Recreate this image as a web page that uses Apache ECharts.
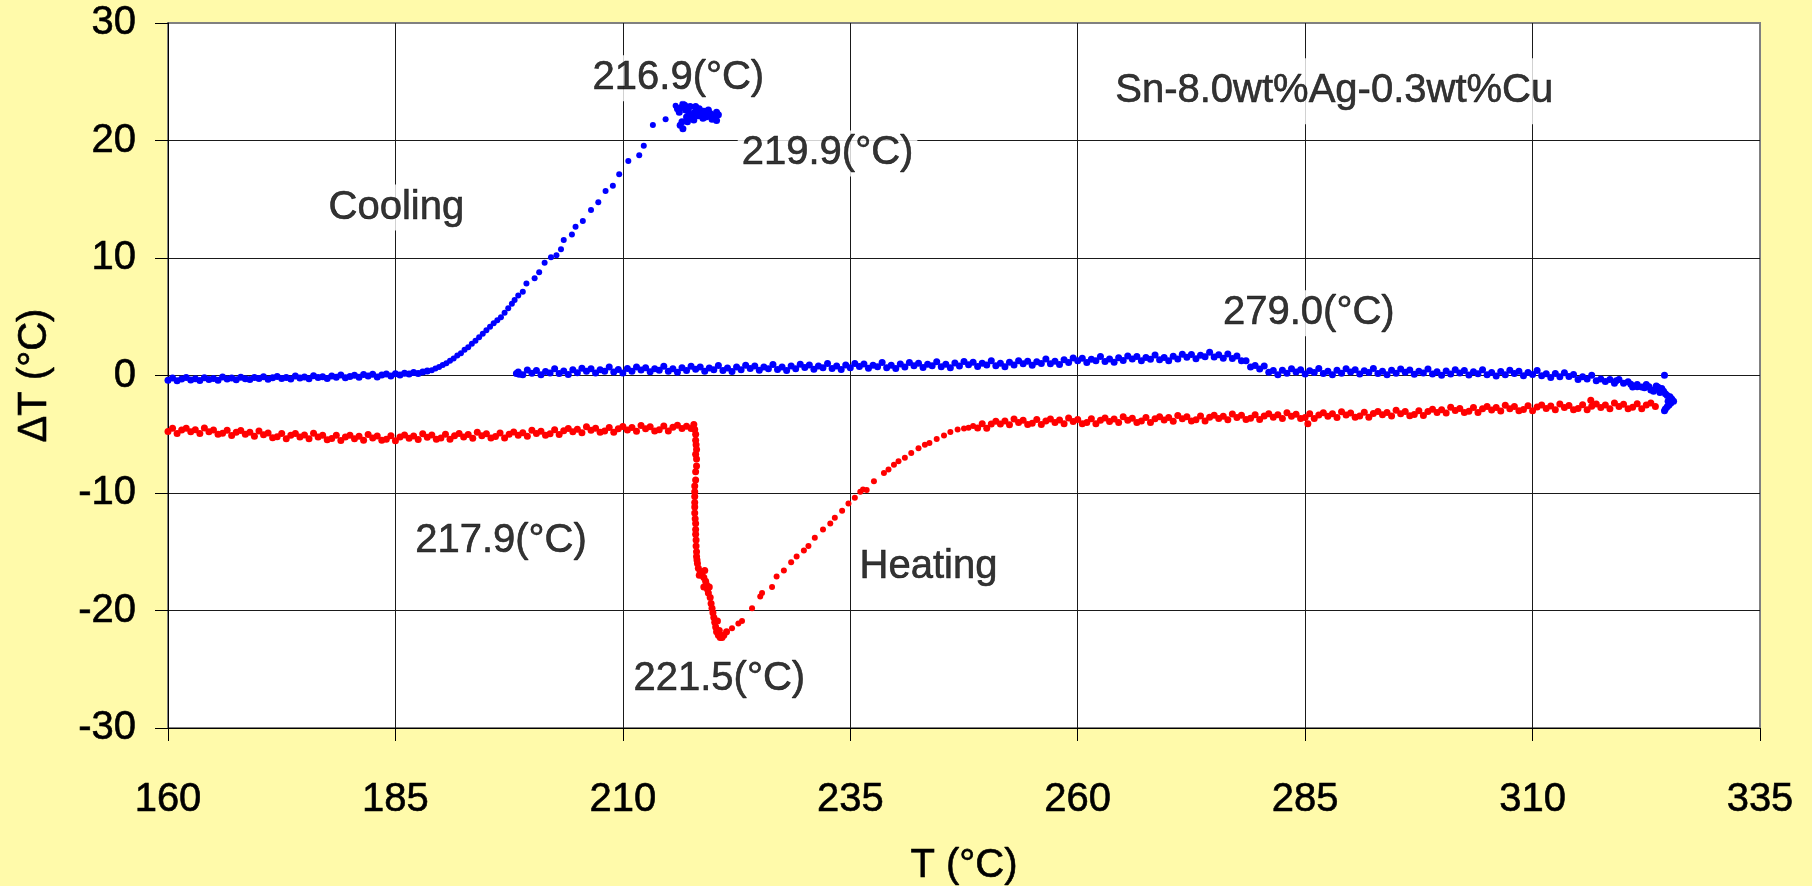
<!DOCTYPE html>
<html>
<head>
<meta charset="utf-8">
<script src="https://cdn.jsdelivr.net/npm/echarts@6/dist/echarts.min.js"></script>
<style>
html,body{margin:0;padding:0;background:#FFFAAA;}
#chart{width:1812px;height:886px;}
</style>
</head>
<body>
<div id="chart"></div>
<script>
// ---- axis settings ----
const xRange = [160, 335, 25];
const yRange = [-30, 30, 10];
const xTitle = 'T (°C)';
const yTitle = 'ΔT (°C)';

// ---- Cooling (blue) ----
const coolingLow = [
[160.0,-0.40],[160.5,-0.22],[161.0,-0.45],[161.5,-0.30],[162.0,-0.18],[162.5,-0.38],[163.0,-0.28],[163.5,-0.42],
[164.0,-0.20],[164.5,-0.33],[165.0,-0.25],[165.5,-0.40],[166.0,-0.12],[166.5,-0.30],[167.0,-0.22],[167.5,-0.36],
[168.0,-0.15],[168.5,-0.28],[169.0,-0.35],[169.5,-0.18],[170.0,-0.26],[170.5,-0.10],[171.0,-0.32],[171.5,-0.20],
[172.0,-0.08],[172.5,-0.25],[173.0,-0.16],[173.5,-0.30],[174.0,-0.05],[174.5,-0.22],[175.0,-0.12],[175.5,-0.28],
[176.0,-0.02],[176.5,-0.18],[177.0,-0.10],[177.5,-0.25],[178.0,-0.04],[178.5,-0.15],[179.0,0.05],[179.5,-0.20],
[180.0,-0.08],[180.5,0.02],[181.0,-0.15],[181.5,0.08],[182.0,-0.05],[182.5,0.10],[183.0,-0.12],[183.5,0.05],
[184.0,0.12],[184.5,-0.05],[185.0,0.15],[185.5,0.05],[186.0,0.20],[186.5,0.12],[187.0,0.25],[187.5,0.18],
[188.0,0.30],[188.5,0.38]
];
const coolingRise = [
[189.0,0.45],[189.4,0.60],[189.8,0.72],[190.2,0.90],[190.6,1.05],[191.0,1.25],[191.4,1.45],[191.8,1.70],
[192.2,1.90],[192.6,2.20],[193.0,2.40],[193.4,2.70],[193.8,2.95],[194.2,3.25],[194.6,3.55],[195.0,3.85],
[195.4,4.15],[195.8,4.45],[196.2,4.70],[196.6,4.95],[197.0,5.35],[197.4,5.72],[197.8,6.10],[198.1,6.43],
[198.5,6.80],[199.0,7.13],[199.4,7.84],[200.3,8.27],[200.8,8.78],[201.4,9.60],[202.1,10.06],[202.7,10.23],
[203.2,10.74],[203.5,11.53],[204.4,12.00],[204.8,12.66],[205.6,13.15],[206.5,14.09],[207.3,14.74],[208.1,15.70],
[208.9,16.15],[209.6,17.12],[210.6,18.26],[211.8,18.74],[212.3,19.56],[213.3,21.32],[214.7,21.80],[215.8,22.96]
];
const coolingPeak = [
[216.3,21.3],[216.6,21.0],[216.6,23.1],[216.9,22.6],[217.0,22.0],[217.2,22.5],[217.4,22.9],[217.6,22.2],
[217.8,21.75],[218.1,22.6],[218.3,22.1],[218.6,22.3],[218.9,22.5],[219.1,22.0],[219.3,22.1],[219.6,22.3],
[219.8,21.8],[220.0,22.1],[220.3,22.4],[220.3,21.7],[216.4,22.8],[216.8,23.0],[217.1,21.6],[218.0,22.9],[219.4,22.6],
[216.0,22.7],[216.2,22.4],[216.5,21.6],[217.3,21.9],[217.9,22.4],[218.4,22.7],[218.8,21.9],[219.2,22.5],
[219.7,22.0],[220.1,21.9],[220.5,22.2]
];
const coolingHigh = [
[198.3,0.18],[198.6,0.10],
[198.5,0.30],[199.0,0.07],[199.5,0.46],[200.0,0.20],[200.5,0.42],[201.0,0.07],[201.5,0.35],[202.0,0.22],
[202.5,0.58],[203.0,0.17],[203.5,0.38],[204.0,0.09],[204.5,0.48],[205.0,0.24],[205.5,0.62],[206.0,0.36],
[206.5,0.57],[207.0,0.22],[207.5,0.50],[208.0,0.36],[208.5,0.72],[209.0,0.30],[209.5,0.51],[210.0,0.22],
[210.5,0.60],[211.0,0.36],[211.5,0.73],[212.0,0.47],[212.5,0.67],[213.0,0.31],[213.5,0.58],[214.0,0.44],
[214.5,0.79],[215.0,0.37],[215.5,0.57],[216.0,0.28],[216.5,0.66],[217.0,0.42],[217.5,0.79],[218.0,0.53],
[218.5,0.73],[219.0,0.37],[219.5,0.64],[220.0,0.50],[220.5,0.86],[221.0,0.43],[221.5,0.64],[222.0,0.35],
[222.5,0.73],[223.0,0.49],[223.5,0.87],[224.0,0.60],[224.5,0.81],[225.0,0.45],[225.5,0.72],[226.0,0.58],
[226.5,0.94],[227.0,0.51],[227.5,0.72],[228.0,0.43],[228.5,0.81],[229.0,0.57],[229.5,0.95],[230.0,0.68],
[230.5,0.89],[231.0,0.53],[231.5,0.80],[232.0,0.66],[232.5,1.02],[233.0,0.59],[233.5,0.80],[234.0,0.51],
[234.5,0.89],[235.0,0.65],[235.5,1.03],[236.0,0.76],[236.5,0.97],[237.0,0.61],[237.5,0.88],[238.0,0.74],
[238.5,1.10],[239.0,0.67],[239.5,0.88],[240.0,0.59],[240.5,0.97],[241.0,0.73],[241.5,1.11],[242.0,0.84],
[242.5,1.05],[243.0,0.69],[243.5,0.96],[244.0,0.82],[244.5,1.18],[245.0,0.75],[245.5,0.96],[246.0,0.67],
[246.5,1.06],[247.0,0.81],[247.5,1.19],[248.0,0.92],[248.5,1.13],[249.0,0.77],[249.5,1.04],[250.0,0.90],
[250.5,1.26],[251.0,0.83],[251.5,1.04],[252.0,0.74],[252.5,1.13],[253.0,0.89],[253.5,1.26],[254.0,1.00],
[254.5,1.22],[255.0,0.87],[255.5,1.16],[256.0,1.03],[256.5,1.40],[257.0,0.99],[257.5,1.22],[258.0,0.94],
[258.5,1.34],[259.0,1.11],[259.5,1.50],[260.0,1.25],[260.5,1.46],[261.0,1.10],[261.5,1.39],[262.0,1.25],
[262.5,1.61],[263.0,1.19],[263.5,1.41],[264.0,1.12],[264.5,1.51],[265.0,1.27],[265.5,1.66],[266.0,1.40],
[266.5,1.61],[267.0,1.25],[267.5,1.53],[268.0,1.39],[268.5,1.75],[269.0,1.33],[269.5,1.54],[270.0,1.25],
[270.5,1.64],[271.0,1.40],[271.5,1.80],[272.0,1.55],[272.5,1.78],[273.0,1.43],[273.5,1.73],[274.0,1.60],
[274.5,1.98],[275.0,1.57],[275.5,1.77],[276.0,1.47],[276.5,1.82],[277.0,1.45],[277.5,1.67],[278.0,1.25],
[278.5,1.25],[279.0,0.73],[279.5,0.85],[280.0,0.55],[280.5,0.80],[281.0,0.27],[281.5,0.42],[282.0,0.07],
[282.5,0.45],[283.0,0.20],[283.5,0.57],[284.0,0.30],[284.5,0.50],[285.0,0.13],[285.5,0.40],[286.0,0.25],
[286.5,0.60],[287.0,0.17],[287.5,0.37],[288.0,0.07],[288.5,0.45],[289.0,0.20],[289.5,0.57],[290.0,0.30],
[290.5,0.50],[291.0,0.13],[291.5,0.40],[292.0,0.25],[292.5,0.60],[293.0,0.17],[293.5,0.37],[294.0,0.07],
[294.5,0.44],[295.0,0.19],[295.5,0.55],[296.0,0.28],[296.5,0.47],[297.0,0.10],[297.5,0.36],[298.0,0.21],
[298.5,0.55],[299.0,0.12],[299.5,0.32],[300.0,0.02],[300.5,0.39],[301.0,0.13],[301.5,0.50],[302.0,0.22],
[302.5,0.42],[303.0,0.04],[303.5,0.31],[304.0,0.15],[304.5,0.50],[305.0,0.06],[305.5,0.26],[306.0,-0.05],
[306.5,0.33],[307.0,0.07],[307.5,0.44],[308.0,0.16],[308.5,0.36],[309.0,-0.02],[309.5,0.25],[310.0,0.09],
[310.5,0.42],[311.0,-0.03],[311.5,0.14],[312.0,-0.18],[312.5,0.17],[313.0,-0.11],[313.5,0.23],[314.0,-0.08],
[314.5,0.08],[315.0,-0.33],[315.5,-0.10],[316.0,-0.29],[316.5,0.02],[317.0,-0.45],[317.5,-0.29],[318.0,-0.50],
[318.5,-0.34],[319.0,-0.65],[319.5,-0.34],[320.0,-0.67],[320.5,-0.54],[321.0,-0.97],[321.5,-0.77],[322.0,-0.98],
[322.5,-0.77],[323.0,-1.23],[323.5,-1.15]
];
const coolingEnd = [
[319.2,-0.45],[320.8,-0.75],[321.5,-0.95],[322.3,-1.05],[322.8,-0.95],[323.3,-1.35],[323.6,-0.90],
[323.8,-1.00],[324.2,-1.10],[324.0,-1.25],[324.0,-1.45],[324.4,-1.35],[324.6,-1.55],[324.8,-1.70],[325.1,-1.80],
[325.3,-2.00],[325.5,-2.20],[325.2,-2.35],[325.0,-2.50],[324.8,-2.65],[324.6,-2.85],[324.5,-3.00],[324.9,-2.20],
[324.5,0.02]
];

// ---- Heating (red) ----
const heatingLow = [
[160.0,-4.77],[160.5,-4.48],[161.0,-4.93],[161.5,-4.64],[162.0,-4.48],[162.5,-4.79],[163.0,-4.61],[163.5,-4.94],
[164.0,-4.47],[164.5,-4.78],[165.0,-4.63],[165.5,-5.01],[166.0,-4.92],[166.5,-4.65],[167.0,-5.10],[167.5,-4.83],
[168.0,-4.68],[168.5,-5.01],[169.0,-4.83],[169.5,-5.18],[170.0,-4.72],[170.5,-5.05],[171.0,-4.90],[171.5,-5.30],
[172.0,-5.22],[172.5,-4.93],[173.0,-5.38],[173.5,-5.09],[174.0,-4.93],[174.5,-5.24],[175.0,-5.06],[175.5,-5.39],
[176.0,-4.92],[176.5,-5.23],[177.0,-5.08],[177.5,-5.46],[178.0,-5.37],[178.5,-5.08],[179.0,-5.53],[179.5,-5.24],
[180.0,-5.08],[180.5,-5.38],[181.0,-5.18],[181.5,-5.50],[182.0,-5.02],[182.5,-5.32],[183.0,-5.15],[183.5,-5.52],
[184.0,-5.42],[184.5,-5.12],[185.0,-5.55],[185.5,-5.24],[186.0,-5.06],[186.5,-5.35],[187.0,-5.14],[187.5,-5.45],
[188.0,-4.96],[188.5,-5.25],[189.0,-5.07],[189.5,-5.43],[190.0,-5.32],[190.5,-5.01],[191.0,-5.43],[191.5,-5.12],
[192.0,-4.94],[192.5,-5.23],[193.0,-5.02],[193.5,-5.33],[194.0,-4.84],[194.5,-5.13],[195.0,-4.95],[195.5,-5.31],
[196.0,-5.20],[196.5,-4.89],[197.0,-5.31],[197.5,-5.00],[198.0,-4.81],[198.5,-5.09],[199.0,-4.87],[199.5,-5.17],
[200.0,-4.67],[200.5,-4.94],[201.0,-4.74],[201.5,-5.08],[202.0,-4.95],[202.5,-4.62],[203.0,-5.02],[203.5,-4.70],
[204.0,-4.51],[204.5,-4.79],[205.0,-4.57],[205.5,-4.87],[206.0,-4.37],[206.5,-4.66],[207.0,-4.48],[207.5,-4.84],
[208.0,-4.73],[208.5,-4.42],[209.0,-4.84],[209.5,-4.53],[210.0,-4.35],[210.5,-4.64],[211.0,-4.43],[211.5,-4.74],
[212.0,-4.25],[212.5,-4.54],[213.0,-4.36],[213.5,-4.72],[214.0,-4.61],[214.5,-4.30],[215.0,-4.72],[215.5,-4.41],
[216.0,-4.23],[216.5,-4.52],[217.0,-4.31],[217.5,-4.52]
];
const heatingDrop = [
[217.8,-4.18],[217.9,-4.60],[218.0,-5.00],[218.0,-5.50],[218.05,-5.90],[218.1,-6.30],[218.0,-6.70],[218.1,-7.10],
[218.1,-7.70],[218.0,-8.20],[218.0,-8.90],[217.9,-9.40],[217.9,-9.90],[217.9,-10.30],[217.9,-10.80],[217.9,-11.20],
[217.9,-11.70],[217.95,-12.20],[218.0,-12.60],[218.0,-13.10],[218.0,-13.50],[218.05,-14.00],[218.05,-14.50],[218.1,-15.00],
[218.1,-15.40],[218.15,-15.70],[218.2,-16.00],[218.3,-16.40],[218.5,-16.70],[218.7,-17.00],[218.9,-17.20],[219.1,-17.50],
[219.2,-17.80],[219.3,-18.20],[219.4,-18.50],[219.6,-18.90],[219.7,-19.40],[219.8,-19.80],[219.9,-20.20],[220.0,-20.60],
[220.1,-21.00],[220.2,-21.40],[220.3,-21.80],[220.5,-22.10],[220.7,-22.30],[220.9,-22.30],[221.1,-22.10],[221.4,-21.80],
[220.6,-21.70],[220.4,-20.90],[219.0,-16.60],[218.4,-17.00],[218.9,-18.00],[219.5,-18.00]
];
const heatingRise = [
[222.0,-21.5],[222.7,-21.1],[223.1,-20.9],[224.2,-19.8],[225.1,-18.8],[225.3,-18.5],[226.4,-18.0],[226.9,-17.1],
[227.7,-16.6],[228.5,-15.9],[229.1,-15.4],[229.9,-14.9],[230.4,-14.5],[231.1,-13.8],[232.0,-13.1],[232.8,-12.6],
[233.3,-12.1],[234.1,-11.5],[234.8,-10.9],[235.5,-10.4],[236.1,-9.9],[236.4,-9.7],[236.8,-9.75],[237.6,-9.0],
[238.7,-8.3],[239.2,-8.0],[239.8,-7.6],[240.3,-7.3],[241.0,-7.0],[241.7,-6.6],[242.5,-6.2],[243.2,-5.9],
[243.7,-5.75],[244.5,-5.4],[245.3,-5.1],[246.0,-4.8],[246.8,-4.6],[247.5,-4.5],[248.0,-4.45],[248.5,-4.30]
];
const heatingHigh = [
[249.0,-4.47],[249.5,-4.11],[250.0,-4.48],[250.5,-4.12],[251.0,-3.89],[251.5,-4.13],[252.0,-3.88],[252.5,-4.19],
[253.0,-3.70],[253.5,-3.99],[254.0,-3.81],[254.5,-4.17],[255.0,-4.06],[255.5,-3.75],[256.0,-4.18],[256.5,-3.87],
[257.0,-3.70],[257.5,-3.99],[258.0,-3.79],[258.5,-4.11],[259.0,-3.62],[259.5,-3.92],[260.0,-3.75],[260.5,-4.11],
[261.0,-4.00],[261.5,-3.69],[262.0,-4.11],[262.5,-3.80],[263.0,-3.62],[263.5,-3.91],[264.0,-3.70],[264.5,-4.01],
[265.0,-3.52],[265.5,-3.81],[266.0,-3.63],[266.5,-3.99],[267.0,-3.88],[267.5,-3.57],[268.0,-3.99],[268.5,-3.68],
[269.0,-3.50],[269.5,-3.79],[270.0,-3.58],[270.5,-3.89],[271.0,-3.40],[271.5,-3.69],[272.0,-3.51],[272.5,-3.87],
[273.0,-3.76],[273.5,-3.45],[274.0,-3.87],[274.5,-3.56],[275.0,-3.38],[275.5,-3.67],[276.0,-3.46],[276.5,-3.77],
[277.0,-3.28],[277.5,-3.57],[278.0,-3.39],[278.5,-3.75],[279.0,-3.64],[279.5,-3.33],[280.0,-3.75],[280.5,-3.44],
[281.0,-3.26],[281.5,-3.55],[282.0,-3.34],[282.5,-3.66],[283.0,-3.18],[283.5,-3.47],[284.0,-3.30],[284.5,-3.67],
[285.0,-3.57],[285.5,-3.25],[286.0,-3.67],[286.5,-3.36],[287.0,-3.18],[287.5,-3.47],[288.0,-3.26],[288.5,-3.57],
[289.0,-3.08],[289.5,-3.37],[290.0,-3.19],[290.5,-3.55],[291.0,-3.44],[291.5,-3.13],[292.0,-3.55],[292.5,-3.24],
[293.0,-3.06],[293.5,-3.35],[294.0,-3.14],[294.5,-3.45],[295.0,-2.96],[295.5,-3.25],[296.0,-3.07],[296.5,-3.43],
[297.0,-3.32],[297.5,-3.00],[298.0,-3.40],[298.5,-3.07],[299.0,-2.87],[299.5,-3.14],[300.0,-2.91],[300.5,-3.20],
[301.0,-2.70],[301.5,-2.98],[302.0,-2.80],[302.5,-3.15],[303.0,-3.04],[303.5,-2.72],[304.0,-3.14],[304.5,-2.82],
[305.0,-2.64],[305.5,-2.93],[306.0,-2.72],[306.5,-3.02],[307.0,-2.53],[307.5,-2.82],[308.0,-2.64],[308.5,-3.00],
[309.0,-2.89],[309.5,-2.58],[310.0,-3.00],[310.5,-2.69],[311.0,-2.52],[311.5,-2.81],[312.0,-2.60],[312.5,-2.92],
[313.0,-2.43],[313.5,-2.72],[314.0,-2.55],[314.5,-2.91],[315.0,-2.80],[315.5,-2.49],[316.0,-2.92],[316.5,-2.61],
[317.0,-2.43],[317.5,-2.72],[318.0,-2.51],[318.5,-2.83],[319.0,-2.34],[319.5,-2.63],[320.0,-2.45],[320.5,-2.82],
[321.0,-2.71],[321.5,-2.40],[322.0,-2.82],[322.5,-2.51],[323.0,-2.34],[323.5,-2.63],
[316.4,-2.10],[285.3,-4.10]
];

// ---- text annotations: [T, dT, text] ----
const annotations = [
[216.1, 25.3, '216.9(°C)'],
[232.5, 18.9, '219.9(°C)'],
[185.1, 14.3, 'Cooling'],
[285.4, 5.3, '279.0(°C)'],
[288.2, 24.2, 'Sn-8.0wt%Ag-0.3wt%Cu'],
[196.6, -14.1, '217.9(°C)'],
[243.6, -16.3, 'Heating'],
[220.6, -25.8, '221.5(°C)']
];

const FONT = "'Liberation Sans', Arial, Helvetica, sans-serif";
const chart = echarts.init(document.getElementById('chart'), null, {renderer: 'canvas'});

const TXT = {color: '#000', fontFamily: FONT, fontSize: 40, textBorderColor: '#000', textBorderWidth: 0.6};

const axisCommon = {
  type: 'value',
  nameLocation: 'middle',
  nameTextStyle: Object.assign({}, TXT),
  axisLine: {show: true, onZero: false, lineStyle: {color: '#000', width: 1}},
  axisTick: {show: true, inside: false, length: 13, lineStyle: {color: '#000', width: 1}},
  splitLine: {show: true, showMaxLine: false, lineStyle: {color: '#1a1a1a', width: 1}}
};

function dots(name, data, color, size) {
  return {name: name, type: 'scatter', data: data, symbol: 'circle', symbolSize: size,
          itemStyle: {color: color, opacity: 1}, z: 3, silent: true};
}

chart.setOption({
  animation: false,
  backgroundColor: '#FFFAAA',
  textStyle: {fontFamily: FONT},
  grid: {left: 168, top: 23, right: 52, bottom: 158, containLabel: false, outerBoundsMode: 'none',
         show: true, backgroundColor: '#ffffff', borderColor: '#808080', borderWidth: 2},
  xAxis: Object.assign({}, axisCommon, {
    min: xRange[0], max: xRange[1], interval: xRange[2],
    name: xTitle, nameGap: 118,
    axisLabel: Object.assign({margin: 52}, TXT)
  }),
  yAxis: Object.assign({}, axisCommon, {
    min: yRange[0], max: yRange[1], interval: yRange[2],
    name: yTitle, nameGap: 113,
    axisLabel: Object.assign({margin: 32}, TXT)
  }),
  series: [
    dots('Cooling', [].concat(coolingLow, coolingHigh, coolingEnd, coolingPeak), '#0000FF', 7),
    dots('Cooling', coolingRise, '#0000FF', 6),
    dots('Heating', [].concat(heatingLow, heatingDrop, heatingHigh), '#FF0000', 7),
    dots('Heating', heatingRise, '#FF0000', 6),
    {name: 'labels', type: 'scatter', symbolSize: 0, silent: true, z: 10,
     itemStyle: {color: 'rgba(0,0,0,0)'},
     data: annotations.map(a => ({
       value: [a[0], a[1]], name: a[2],
       label: a[2].indexOf('Sn') === 0 ? {padding: [13, 10]} : {}
     })),
     label: Object.assign({show: true, position: 'inside', formatter: '{b}',
             textShadowBlur: 0, backgroundColor: '#ffffff', padding: [3, 4]}, TXT)
    }
  ]
});
</script>
</body>
</html>
